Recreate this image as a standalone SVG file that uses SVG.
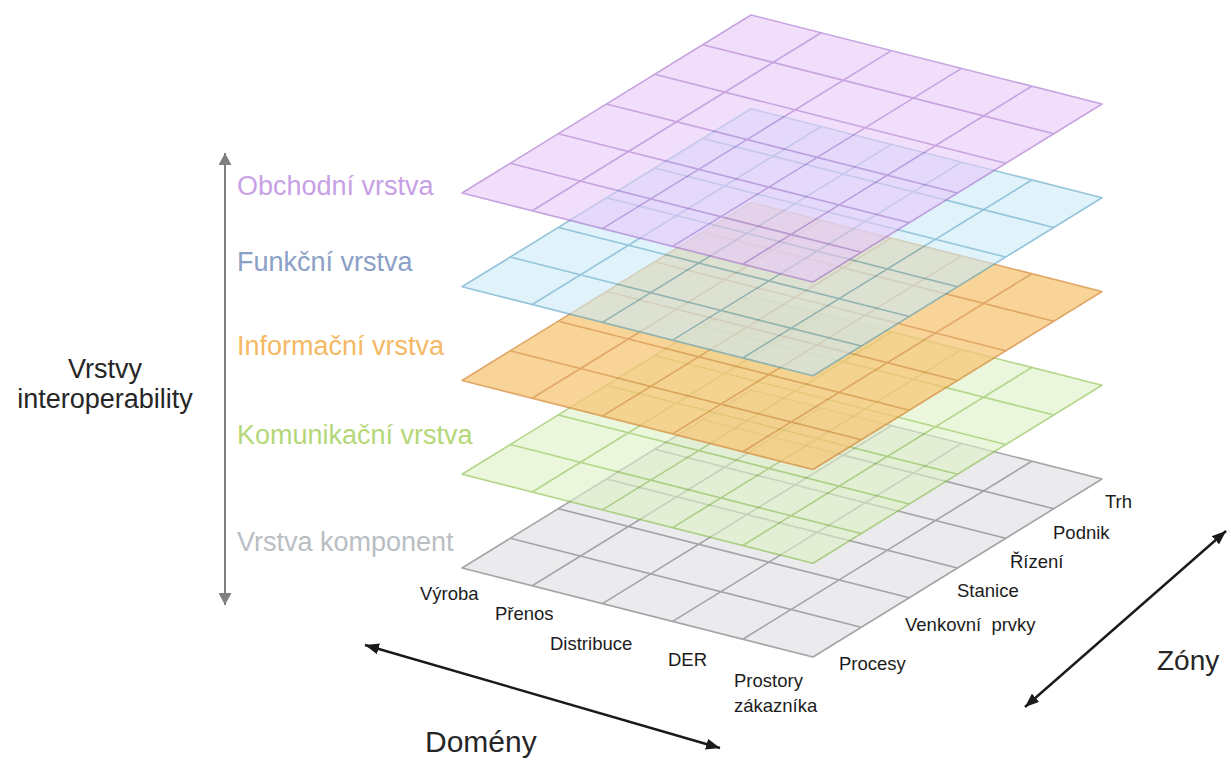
<svg xmlns="http://www.w3.org/2000/svg" width="1231" height="760" viewBox="0 0 1231 760">
  <style>
    .lbl { font-family: "Liberation Sans", Arial, sans-serif; font-size: 27px; }
    .axis { font-family: "Liberation Sans", Arial, sans-serif; fill: #262626; }
    .tick { font-family: "Liberation Sans", Arial, sans-serif; font-size: 18.5px; fill: #1c1c1c; }
    .edge { stroke-width: 1.6; stroke-linejoin: round; }
    .gl { fill: none; stroke-width: 1.6; }
  </style>
  <defs>
    <!-- one plate: left corner at (462,0); 5 domain cells along the front edge, 6 zone cells along the right edge -->
    <polygon id="plate" points="462,0 751,-178 1102,-89 813,89"/>
    <path id="grid" d="M510.17,-29.67L861.17,59.33 M558.33,-59.33L909.33,29.67 M606.5,-89L957.5,0 M654.67,-118.67L1005.67,-29.67 M702.83,-148.33L1053.83,-59.33 M532.2,17.8L821.2,-160.2 M602.4,35.6L891.4,-142.4 M672.6,53.4L961.6,-124.6 M742.8,71.2L1031.8,-106.8"/>
    <marker id="headGrey" viewBox="0 0 12 13" refX="12" refY="6.5" markerWidth="12" markerHeight="13" markerUnits="userSpaceOnUse" orient="auto-start-reverse">
      <path d="M0,0 L12,6.5 L0,13 Z" fill="#7f7f7f"/>
    </marker>
    <marker id="headDark" viewBox="0 0 14 11" refX="14" refY="5.5" markerWidth="14" markerHeight="11" markerUnits="userSpaceOnUse" orient="auto-start-reverse">
      <path d="M0,0 L14,5.5 L0,11 Z" fill="#1a1a1a"/>
    </marker>
  </defs>

  <!-- stacked layers, bottom to top -->
  <g id="layer-komponent" transform="translate(0,568)" opacity="0.6">
    <use href="#plate" class="edge" fill="#dfdfe3" stroke="#69696f"/>
    <use href="#grid" class="gl" stroke="#69696f"/>
  </g>
  <g id="layer-komunikacni" transform="translate(0,474.25)" opacity="0.6">
    <use href="#plate" class="edge" fill="#def2c5" stroke="#82bc3f"/>
    <use href="#grid" class="gl" stroke="#82bc3f"/>
  </g>
  <g id="layer-informacni" transform="translate(0,380.5)" opacity="0.75">
    <use href="#plate" class="edge" fill="#f7c676" stroke="#d78a34"/>
    <use href="#grid" class="gl" stroke="#d78a34"/>
  </g>
  <g id="layer-funkcni" transform="translate(0,286.75)" opacity="0.6">
    <use href="#plate" class="edge" fill="#cceaf8" stroke="#4f9fc2"/>
    <use href="#grid" class="gl" stroke="#4f9fc2"/>
  </g>
  <g id="layer-obchodni" transform="translate(0,193)" opacity="0.6">
    <use href="#plate" class="edge" fill="#e8c9fa" stroke="#a369cd"/>
    <use href="#grid" class="gl" stroke="#a369cd"/>
  </g>

  <!-- axis arrows -->
  <g id="connectors" fill="none">
    <line x1="225" y1="153" x2="225" y2="605" stroke="#7f7f7f" stroke-width="2" marker-start="url(#headGrey)" marker-end="url(#headGrey)"/>
    <line x1="365" y1="645" x2="720" y2="748" stroke="#1a1a1a" stroke-width="2.4" marker-start="url(#headDark)" marker-end="url(#headDark)"/>
    <line x1="1226" y1="531" x2="1025" y2="707" stroke="#1a1a1a" stroke-width="2.4" marker-start="url(#headDark)" marker-end="url(#headDark)"/>
  </g>

  <!-- layer names -->
  <g id="label-obchodni"><text class="lbl" x="237" y="195" fill="#c8a0e6">Obchodní vrstva</text></g>
  <g id="label-funkcni"><text class="lbl" x="237" y="271" fill="#8c9fc6">Funkční vrstva</text></g>
  <g id="label-informacni"><text class="lbl" x="237" y="355" fill="#f5b864">Informační vrstva</text></g>
  <g id="label-komunikacni"><text class="lbl" x="237" y="444" fill="#b4d778">Komunikační vrstva</text></g>
  <g id="label-komponent"><text class="lbl" x="237" y="551" fill="#b9bec3">Vrstva komponent</text></g>

  <!-- axis titles -->
  <g id="title-vrstvy">
    <text class="axis" font-size="27" text-anchor="middle" x="105" y="378">Vrstvy</text>
    <text class="axis" font-size="27" text-anchor="middle" x="105" y="408">interoperability</text>
  </g>
  <g id="title-domeny"><text class="axis" font-size="30" x="425" y="752">Domény</text></g>
  <g id="title-zony"><text class="axis" font-size="28" x="1157" y="670">Zóny</text></g>

  <!-- domains -->
  <g id="domains">
    <text class="tick" x="420" y="600">Výroba</text>
    <text class="tick" x="495" y="620">Přenos</text>
    <text class="tick" x="550" y="650">Distribuce</text>
    <text class="tick" x="668" y="666">DER</text>
    <text class="tick" x="734" y="687">Prostory</text>
    <text class="tick" x="734" y="712">zákazníka</text>
  </g>

  <!-- zones -->
  <g id="zones">
    <text class="tick" x="839" y="670">Procesy</text>
    <text class="tick" x="905" y="631" xml:space="preserve">Venkovní  prvky</text>
    <text class="tick" x="957" y="597">Stanice</text>
    <text class="tick" x="1010" y="568">Řízení</text>
    <text class="tick" x="1053" y="539">Podnik</text>
    <text class="tick" x="1105" y="508">Trh</text>
  </g>
</svg>
